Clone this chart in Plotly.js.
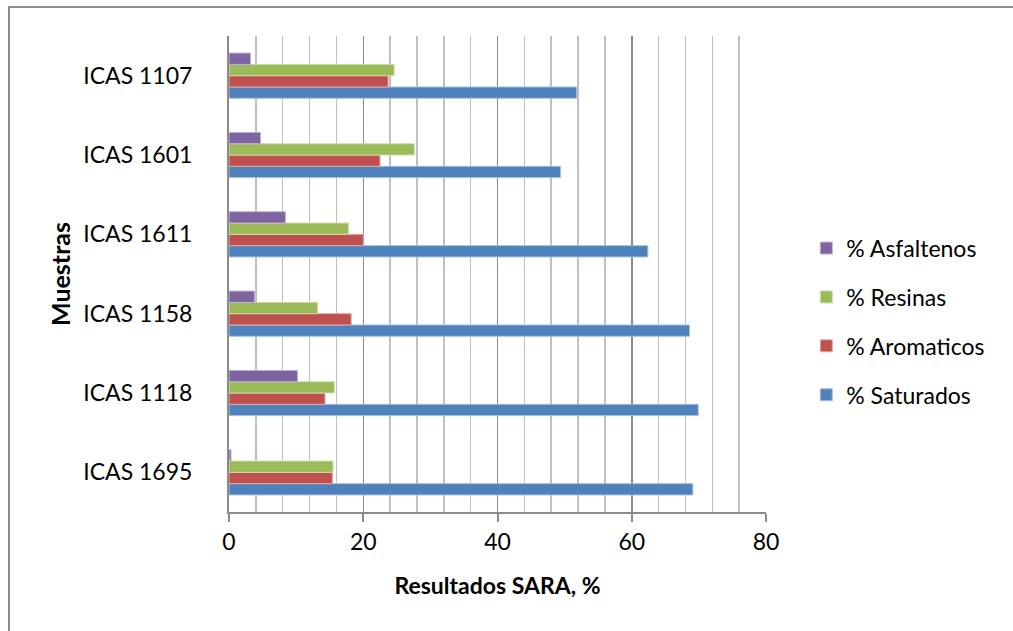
<!DOCTYPE html>
<html>
<head>
<meta charset="utf-8">
<script src="https://cdn.plot.ly/plotly-3.0.1.min.js"></script>
<style>
  html, body { margin: 0; padding: 0; background: #fff; }
  #wrap { position: relative; width: 1013px; height: 631px; overflow: hidden; }
  #frame { position: absolute; left: 8px; top: 6px; width: 1100px; height: 700px;
           border-left: 2px solid #8c8c8c; border-top: 2px solid #8c8c8c; pointer-events: none; }
  #chart { position: absolute; left: 0; top: 0; width: 1013px; height: 631px; }
</style>
</head>
<body>
<div id="wrap">
  <div id="chart"></div>
  <div id="frame"></div>
</div>
<script>
// Categories (bottom to top)
const categories = ['ICAS 1695', 'ICAS 1118', 'ICAS 1158', 'ICAS 1611', 'ICAS 1601', 'ICAS 1107'];
const saturados  = [69.1, 69.9, 68.6, 62.4, 49.4, 51.8];
const aromaticos = [15.4, 14.3, 18.2, 20.0, 22.5, 23.7];
const resinas    = [15.5, 15.7, 13.2, 17.8, 27.6, 24.6];
const asfaltenos = [0.3, 10.2, 3.8, 8.4, 4.7, 3.2];
const seriesNames = ['% Saturados', '% Aromaticos', '% Resinas', '% Asfaltenos'];
const xTickVals = [0, 20, 40, 60, 80];

const colors = ['#4F81BD', '#C0504D', '#9BBB59', '#8064A2'];
const lines  = ['#A7C0DE', '#DFA8A6', '#CDDDAC', '#BFB1D0'];
const values = [saturados, aromaticos, resinas, asfaltenos];

const data = values.map((v, i) => ({
  type: 'bar',
  orientation: 'h',
  y: categories,
  x: v,
  name: seriesNames[i],
  legendgroup: 'g' + i,
  legendrank: 1000 - i,
  marker: { color: colors[i], line: { color: lines[i], width: 1 } },
  hoverinfo: 'x+y+name'
}));

const font = 'Lato, "Open Sans", "Noto Sans", sans-serif';

const layout = {
  width: 1013, height: 631,
  margin: { l: 229, r: 247, t: 36, b: 119, pad: 0 },
  paper_bgcolor: '#fff', plot_bgcolor: '#fff',
  barmode: 'group',
  bargap: 0.43,
  bargroupgap: 0,
  font: { family: font, size: 20, color: '#000' },
  xaxis: {
    range: [0, 80],
    tickvals: xTickVals,
    ticktext: xTickVals.map(String),
    showgrid: true, gridcolor: '#8a8a8a', gridwidth: 1.5,
    minor: { dtick: 4, showgrid: true, gridcolor: '#c0c0c0', gridwidth: 1.5 },
    showline: true, linecolor: '#8a8a8a', linewidth: 2,
    ticks: 'outside', ticklen: 8, tickcolor: '#8a8a8a', tickwidth: 2,
    zeroline: false,
    tickfont: { family: font, size: 23, color: '#000' },
    title: { text: '<b>Resultados SARA, %</b>', font: { family: font, size: 23, color: '#000' }, standoff: 24 },
    fixedrange: true
  },
  yaxis: {
    type: 'category',
    showgrid: false,
    showline: true, linecolor: '#8a8a8a', linewidth: 2,
    ticks: '', zeroline: false,
    ticklabelstandoff: 30,
    tickfont: { family: font, size: 23, color: '#000' },
    title: { text: '<b>Muestras</b>', font: { family: font, size: 25, color: '#000' }, standoff: 6 },
    fixedrange: true
  },
  showlegend: true,
  legend: {
    x: 1.075, xanchor: 'left', y: 0.40, yanchor: 'middle',
    traceorder: 'grouped',
    font: { family: font, size: 23, color: '#000' },
    itemwidth: 30,
    tracegroupgap: 16,
    bgcolor: 'rgba(0,0,0,0)'
  }
};

Plotly.newPlot('chart', data, layout, { displayModeBar: false, staticPlot: true });
</script>
</body>
</html>
